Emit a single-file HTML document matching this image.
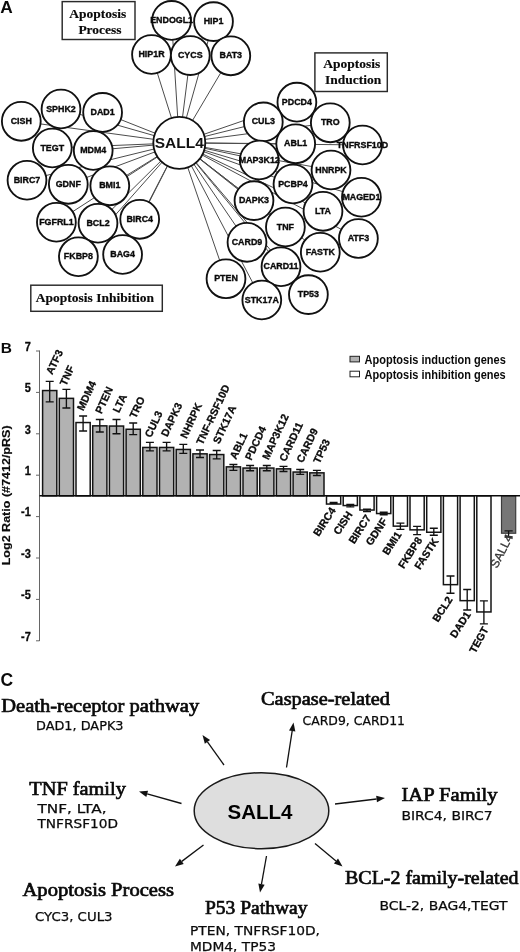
<!DOCTYPE html><html><head><meta charset="utf-8"><title>Figure</title>
<style>html,body{margin:0;padding:0;background:#fff}svg{display:block;filter:grayscale(1)}text{font-family:"Liberation Sans",sans-serif}.g{font-weight:bold;font-size:8.9px;text-anchor:middle;fill:#0a0a0a;stroke:#0a0a0a;stroke-width:.35px}.bx{font-family:"Liberation Serif",serif;font-weight:bold;font-size:13.5px;text-anchor:middle;fill:#0a0a0a;stroke:#0a0a0a;stroke-width:.15px}.pl{font-weight:bold;font-size:15.5px;fill:#0a0a0a}.tk{font-weight:bold;font-size:12.6px;text-anchor:end;fill:#0a0a0a;stroke:#0a0a0a;stroke-width:.3px}.bl{font-weight:bold;font-size:10.6px;fill:#0a0a0a;stroke:#0a0a0a;stroke-width:.3px}.lg{font-weight:bold;font-size:12px;fill:#0a0a0a}.hd{font-family:"Liberation Serif",serif;font-size:19.6px;fill:#0a0a0a;stroke:#0a0a0a;stroke-width:.7px}.sb{font-family:"DejaVu Sans",sans-serif;font-size:12.6px;fill:#0a0a0a;stroke:#0a0a0a;stroke-width:.25px}</style></head><body>
<svg width="520" height="952" viewBox="0 0 520 952">
<rect width="520" height="952" fill="#fff"/>
<text class="pl" x="0.2" y="12.9" style="font-size:17.3px">A</text>
<g stroke="#4c4c4c" stroke-width="1">
<line x1="179.3" y1="142.8" x2="171.6" y2="20.4"/>
<line x1="179.3" y1="142.8" x2="213.5" y2="21.6"/>
<line x1="179.3" y1="142.8" x2="151.5" y2="54.5"/>
<line x1="179.3" y1="142.8" x2="190.3" y2="55.6"/>
<line x1="179.3" y1="142.8" x2="230.8" y2="55.8"/>
<line x1="179.3" y1="142.8" x2="21.3" y2="121.3"/>
<line x1="179.3" y1="142.8" x2="61" y2="109"/>
<line x1="179.3" y1="142.8" x2="102.6" y2="112.4"/>
<line x1="179.3" y1="142.8" x2="52.3" y2="148"/>
<line x1="179.3" y1="142.8" x2="93.2" y2="150.5"/>
<line x1="179.3" y1="142.8" x2="27" y2="180.2"/>
<line x1="179.3" y1="142.8" x2="68.3" y2="184.3"/>
<line x1="179.3" y1="142.8" x2="109.8" y2="185.8"/>
<line x1="179.3" y1="142.8" x2="56.4" y2="222.2"/>
<line x1="179.3" y1="142.8" x2="98" y2="223.2"/>
<line x1="179.3" y1="142.8" x2="139.7" y2="219.3"/>
<line x1="179.3" y1="142.8" x2="78.4" y2="256.7"/>
<line x1="179.3" y1="142.8" x2="122.6" y2="254.5"/>
<line x1="179.3" y1="142.8" x2="296.9" y2="102.2"/>
<line x1="179.3" y1="142.8" x2="263.3" y2="121.9"/>
<line x1="179.3" y1="142.8" x2="330.3" y2="122.8"/>
<line x1="179.3" y1="142.8" x2="295.7" y2="143.8"/>
<line x1="179.3" y1="142.8" x2="362.5" y2="145"/>
<line x1="179.3" y1="142.8" x2="259.3" y2="160"/>
<line x1="179.3" y1="142.8" x2="331" y2="170"/>
<line x1="179.3" y1="142.8" x2="293" y2="184"/>
<line x1="179.3" y1="142.8" x2="254" y2="200.6"/>
<line x1="179.3" y1="142.8" x2="361.4" y2="197.2"/>
<line x1="179.3" y1="142.8" x2="323" y2="211.3"/>
<line x1="179.3" y1="142.8" x2="285.4" y2="227"/>
<line x1="179.3" y1="142.8" x2="358.4" y2="238.5"/>
<line x1="179.3" y1="142.8" x2="247" y2="242.3"/>
<line x1="179.3" y1="142.8" x2="320.3" y2="252.2"/>
<line x1="179.3" y1="142.8" x2="281" y2="266.7"/>
<line x1="179.3" y1="142.8" x2="226" y2="278.8"/>
<line x1="179.3" y1="142.8" x2="261.8" y2="300"/>
<line x1="179.3" y1="142.8" x2="308.4" y2="294.6"/>
</g>
<g fill="#fff" stroke="#111" stroke-width="1.85">
<circle cx="171.6" cy="20.4" r="19.4"/>
<circle cx="213.5" cy="21.6" r="19.4"/>
<circle cx="151.5" cy="54.5" r="19.4"/>
<circle cx="190.3" cy="55.6" r="19.4"/>
<circle cx="230.8" cy="55.8" r="19.4"/>
<circle cx="21.3" cy="121.3" r="19.4"/>
<circle cx="61" cy="109" r="19.4"/>
<circle cx="102.6" cy="112.4" r="19.4"/>
<circle cx="52.3" cy="148" r="19.4"/>
<circle cx="93.2" cy="150.5" r="19.4"/>
<circle cx="27" cy="180.2" r="19.4"/>
<circle cx="68.3" cy="184.3" r="19.4"/>
<circle cx="109.8" cy="185.8" r="19.4"/>
<circle cx="56.4" cy="222.2" r="19.4"/>
<circle cx="98" cy="223.2" r="19.4"/>
<circle cx="139.7" cy="219.3" r="19.4"/>
<circle cx="78.4" cy="256.7" r="19.4"/>
<circle cx="122.6" cy="254.5" r="19.4"/>
<circle cx="296.9" cy="102.2" r="19.4"/>
<circle cx="263.3" cy="121.9" r="19.4"/>
<circle cx="330.3" cy="122.8" r="19.4"/>
<circle cx="295.7" cy="143.8" r="19.4"/>
<circle cx="362.5" cy="145" r="19.4"/>
<circle cx="259.3" cy="160" r="19.4"/>
<circle cx="331" cy="170" r="19.4"/>
<circle cx="293" cy="184" r="19.4"/>
<circle cx="254" cy="200.6" r="19.4"/>
<circle cx="361.4" cy="197.2" r="19.4"/>
<circle cx="323" cy="211.3" r="19.4"/>
<circle cx="285.4" cy="227" r="19.4"/>
<circle cx="358.4" cy="238.5" r="19.4"/>
<circle cx="247" cy="242.3" r="19.4"/>
<circle cx="320.3" cy="252.2" r="19.4"/>
<circle cx="281" cy="266.7" r="19.4"/>
<circle cx="226" cy="278.8" r="19.4"/>
<circle cx="261.8" cy="300" r="19.4"/>
<circle cx="308.4" cy="294.6" r="19.4"/>
<circle cx="179.3" cy="142.8" r="26"/>
</g>
<text class="g" x="171.6" y="22.9">ENDOGL1</text>
<text class="g" x="213.5" y="24.1">HIP1</text>
<text class="g" x="151.5" y="57.0">HIP1R</text>
<text class="g" x="190.3" y="58.1">CYCS</text>
<text class="g" x="230.8" y="58.3">BAT3</text>
<text class="g" x="21.3" y="123.8">CISH</text>
<text class="g" x="61" y="111.5">SPHK2</text>
<text class="g" x="102.6" y="114.9">DAD1</text>
<text class="g" x="52.3" y="150.5">TEGT</text>
<text class="g" x="93.2" y="153.0">MDM4</text>
<text class="g" x="27" y="182.7">BIRC7</text>
<text class="g" x="68.3" y="186.8">GDNF</text>
<text class="g" x="109.8" y="188.3">BMI1</text>
<text class="g" x="56.4" y="224.7">FGFRL1</text>
<text class="g" x="98" y="225.7">BCL2</text>
<text class="g" x="139.7" y="221.8">BIRC4</text>
<text class="g" x="78.4" y="259.2">FKBP8</text>
<text class="g" x="122.6" y="257.0">BAG4</text>
<text class="g" x="296.9" y="104.7">PDCD4</text>
<text class="g" x="263.3" y="124.4">CUL3</text>
<text class="g" x="330.3" y="125.3">TRO</text>
<text class="g" x="295.7" y="146.3">ABL1</text>
<text class="g" x="362.5" y="147.5">TNFRSF10D</text>
<text class="g" x="259.3" y="162.5">MAP3K12</text>
<text class="g" x="331" y="172.5">HNRPK</text>
<text class="g" x="293" y="186.5">PCBP4</text>
<text class="g" x="254" y="203.1">DAPK3</text>
<text class="g" x="361.4" y="199.7">MAGED1</text>
<text class="g" x="323" y="213.8">LTA</text>
<text class="g" x="285.4" y="229.5">TNF</text>
<text class="g" x="358.4" y="241.0">ATF3</text>
<text class="g" x="247" y="244.8">CARD9</text>
<text class="g" x="320.3" y="254.7">FASTK</text>
<text class="g" x="281" y="269.2">CARD11</text>
<text class="g" x="226" y="281.3">PTEN</text>
<text class="g" x="261.8" y="302.5">STK17A</text>
<text class="g" x="308.4" y="297.1">TP53</text>
<text x="179.3" y="148.4" font-weight="bold" font-size="15.5" text-anchor="middle" fill="#111">SALL4</text>
<rect x="62.2" y="1.6" width="72.8" height="37.9" fill="#fff" stroke="#2a2a2a" stroke-width="1.45"/>
<text class="bx" x="97.8" y="18.1">Apoptosis</text>
<text class="bx" x="100" y="33.5">Process</text>
<rect x="314.9" y="52.9" width="72.4" height="38.6" fill="#fff" stroke="#2a2a2a" stroke-width="1.45"/>
<text class="bx" x="351.7" y="68.15">Apoptosis</text>
<text class="bx" x="353.1" y="83.8">Induction</text>
<rect x="30.8" y="285.2" width="131.5" height="26.1" fill="#fff" stroke="#2a2a2a" stroke-width="1.45"/>
<text class="bx" x="94.9" y="302.3">Apoptosis Inhibition</text>
<text class="pl" x="0.8" y="352.8">B</text>
<line x1="39.5" y1="350.5" x2="39.5" y2="641" stroke="#666" stroke-width="1"/>
<line x1="36.0" y1="351.0" x2="39.5" y2="351.0" stroke="#666" stroke-width="1"/>
<text class="tk" transform="translate(30.8,350.7) scale(0.87,1)">7</text>
<line x1="36.0" y1="392.4" x2="39.5" y2="392.4" stroke="#666" stroke-width="1"/>
<text class="tk" transform="translate(30.8,392.1) scale(0.87,1)">5</text>
<line x1="36.0" y1="433.8" x2="39.5" y2="433.8" stroke="#666" stroke-width="1"/>
<text class="tk" transform="translate(30.8,433.5) scale(0.87,1)">3</text>
<line x1="36.0" y1="475.2" x2="39.5" y2="475.2" stroke="#666" stroke-width="1"/>
<text class="tk" transform="translate(30.8,474.9) scale(0.87,1)">1</text>
<line x1="36.0" y1="516.6" x2="39.5" y2="516.6" stroke="#666" stroke-width="1"/>
<text class="tk" transform="translate(30.8,516.3) scale(0.87,1)">-1</text>
<line x1="36.0" y1="558.0" x2="39.5" y2="558.0" stroke="#666" stroke-width="1"/>
<text class="tk" transform="translate(30.8,557.7) scale(0.87,1)">-3</text>
<line x1="36.0" y1="599.4" x2="39.5" y2="599.4" stroke="#666" stroke-width="1"/>
<text class="tk" transform="translate(30.8,599.1) scale(0.87,1)">-5</text>
<line x1="36.0" y1="640.8" x2="39.5" y2="640.8" stroke="#666" stroke-width="1"/>
<text class="tk" transform="translate(30.8,640.5) scale(0.87,1)">-7</text>
<text transform="translate(10.1,565.3) rotate(-90) scale(1.1,1)" font-weight="bold" font-size="11.4" fill="#0a0a0a" stroke="#0a0a0a" stroke-width="0.15">Log2 Ratio (#7412/pRS)</text>
<rect x="42.60" y="390.55" width="14.2" height="105.30" fill="#b2b2b2" stroke="#141414" stroke-width="1.5"/>
<path d="M45.70 381.3h8M45.70 401.8h8M49.70 381.3V401.8" stroke="#111" stroke-width="1.35" fill="none"/>
<text class="bl" transform="translate(52.30,375.30) rotate(-65)">ATF3</text>
<rect x="59.30" y="398.35" width="14.2" height="97.50" fill="#b2b2b2" stroke="#141414" stroke-width="1.5"/>
<path d="M62.40 389.4h8M62.40 408h8M66.40 389.4V408" stroke="#111" stroke-width="1.35" fill="none"/>
<text class="bl" transform="translate(66.00,386.40) rotate(-65)">TNF</text>
<rect x="76.00" y="422.55" width="14.2" height="73.30" fill="#fff" stroke="#141414" stroke-width="1.5"/>
<path d="M79.10 416h8M79.10 431h8M83.10 416V431" stroke="#111" stroke-width="1.35" fill="none"/>
<text class="bl" transform="translate(83.20,411.50) rotate(-65)">MDM4</text>
<rect x="92.70" y="425.85" width="14.2" height="70.00" fill="#b2b2b2" stroke="#141414" stroke-width="1.5"/>
<path d="M95.80 419.5h8M95.80 432h8M99.80 419.5V432" stroke="#111" stroke-width="1.35" fill="none"/>
<text class="bl" transform="translate(101.40,414.50) rotate(-65)">PTEN</text>
<rect x="109.40" y="426.05" width="14.2" height="69.80" fill="#b2b2b2" stroke="#141414" stroke-width="1.5"/>
<path d="M112.50 419.5h8M112.50 433.7h8M116.50 419.5V433.7" stroke="#111" stroke-width="1.35" fill="none"/>
<text class="bl" transform="translate(119.10,413.50) rotate(-65)">LTA</text>
<rect x="126.10" y="429.25" width="14.2" height="66.60" fill="#b2b2b2" stroke="#141414" stroke-width="1.5"/>
<path d="M129.20 423h8M129.20 434.6h8M133.20 423V434.6" stroke="#111" stroke-width="1.35" fill="none"/>
<text class="bl" transform="translate(135.80,419.00) rotate(-65)">TRO</text>
<rect x="142.80" y="447.45" width="14.2" height="48.40" fill="#b2b2b2" stroke="#141414" stroke-width="1.5"/>
<path d="M145.90 442.3h8M145.90 450.8h8M149.90 442.3V450.8" stroke="#111" stroke-width="1.35" fill="none"/>
<text class="bl" transform="translate(151.00,438.30) rotate(-65)">CUL3</text>
<rect x="159.50" y="447.45" width="14.2" height="48.40" fill="#b2b2b2" stroke="#141414" stroke-width="1.5"/>
<path d="M162.60 442.3h8M162.60 450.8h8M166.60 442.3V450.8" stroke="#111" stroke-width="1.35" fill="none"/>
<text class="bl" transform="translate(167.20,437.50) rotate(-65)">DAPK3</text>
<rect x="176.20" y="449.45" width="14.2" height="46.40" fill="#b2b2b2" stroke="#141414" stroke-width="1.5"/>
<path d="M179.30 444.3h8M179.30 453.3h8M183.30 444.3V453.3" stroke="#111" stroke-width="1.35" fill="none"/>
<text class="bl" transform="translate(186.40,439.30) rotate(-65)">NHRPK</text>
<rect x="192.90" y="453.85" width="14.2" height="42.00" fill="#b2b2b2" stroke="#141414" stroke-width="1.5"/>
<path d="M196.00 450h8M196.00 457.5h8M200.00 450V457.5" stroke="#111" stroke-width="1.35" fill="none"/>
<text class="bl" transform="translate(202.60,445.50) rotate(-65)">TNF-RSF10D</text>
<rect x="209.60" y="454.55" width="14.2" height="41.30" fill="#b2b2b2" stroke="#141414" stroke-width="1.5"/>
<path d="M212.70 450.5h8M212.70 458.8h8M216.70 450.5V458.8" stroke="#111" stroke-width="1.35" fill="none"/>
<text class="bl" transform="translate(219.30,444.50) rotate(-65)">STK17A</text>
<rect x="226.30" y="466.85" width="14.2" height="29.00" fill="#b2b2b2" stroke="#141414" stroke-width="1.5"/>
<path d="M229.40 464.5h8M229.40 470.3h8M233.40 464.5V470.3" stroke="#111" stroke-width="1.35" fill="none"/>
<text class="bl" transform="translate(236.00,460.00) rotate(-65)">ABL1</text>
<rect x="243.00" y="468.05" width="14.2" height="27.80" fill="#b2b2b2" stroke="#141414" stroke-width="1.5"/>
<path d="M246.10 465.5h8M246.10 470.7h8M250.10 465.5V470.7" stroke="#111" stroke-width="1.35" fill="none"/>
<text class="bl" transform="translate(251.20,461.00) rotate(-65)">PDCD4</text>
<rect x="259.70" y="468.05" width="14.2" height="27.80" fill="#b2b2b2" stroke="#141414" stroke-width="1.5"/>
<path d="M262.80 465.5h8M262.80 470.7h8M266.80 465.5V470.7" stroke="#111" stroke-width="1.35" fill="none"/>
<text class="bl" transform="translate(268.40,460.50) rotate(-65)">MAP3K12</text>
<rect x="276.40" y="468.85" width="14.2" height="27.00" fill="#b2b2b2" stroke="#141414" stroke-width="1.5"/>
<path d="M279.50 466.3h8M279.50 471.5h8M283.50 466.3V471.5" stroke="#111" stroke-width="1.35" fill="none"/>
<text class="bl" transform="translate(285.60,462.30) rotate(-65)">CARD11</text>
<rect x="293.10" y="472.05" width="14.2" height="23.80" fill="#b2b2b2" stroke="#141414" stroke-width="1.5"/>
<path d="M296.20 469.5h8M296.20 474.3h8M300.20 469.5V474.3" stroke="#111" stroke-width="1.35" fill="none"/>
<text class="bl" transform="translate(302.80,463.50) rotate(-65)">CARD9</text>
<rect x="309.80" y="472.85" width="14.2" height="23.00" fill="#b2b2b2" stroke="#141414" stroke-width="1.5"/>
<path d="M312.90 470.3h8M312.90 475.5h8M316.90 470.3V475.5" stroke="#111" stroke-width="1.35" fill="none"/>
<text class="bl" transform="translate(319.50,464.30) rotate(-65)">TP53</text>
<rect x="326.50" y="495.85" width="14.2" height="8.20" fill="#fff" stroke="#141414" stroke-width="1.5"/>
<path d="M329.60 502.3h8M329.60 503.3h8M333.60 502.3V503.3" stroke="#111" stroke-width="1.35" fill="none"/>
<text class="bl" text-anchor="end" transform="translate(336.10,510.40) rotate(-57)">BIRC4</text>
<rect x="343.20" y="495.85" width="14.2" height="9.70" fill="#fff" stroke="#141414" stroke-width="1.5"/>
<path d="M346.30 504.4h8M346.30 506.9h8M350.30 504.4V506.9" stroke="#111" stroke-width="1.35" fill="none"/>
<text class="bl" text-anchor="end" transform="translate(352.80,514.30) rotate(-57)">CISH</text>
<rect x="359.90" y="495.85" width="14.2" height="14.20" fill="#fff" stroke="#141414" stroke-width="1.5"/>
<path d="M363.00 509.2h8M363.00 511.6h8M367.00 509.2V511.6" stroke="#111" stroke-width="1.35" fill="none"/>
<text class="bl" text-anchor="end" transform="translate(371.50,517.90) rotate(-57)">BIRC7</text>
<rect x="376.60" y="495.85" width="14.2" height="17.70" fill="#fff" stroke="#141414" stroke-width="1.5"/>
<path d="M379.70 512.2h8M379.70 514.7h8M383.70 512.2V514.7" stroke="#111" stroke-width="1.35" fill="none"/>
<text class="bl" text-anchor="end" transform="translate(387.70,521.10) rotate(-57)">GDNF</text>
<rect x="393.30" y="495.85" width="14.2" height="30.30" fill="#fff" stroke="#141414" stroke-width="1.5"/>
<path d="M396.40 523.1h8M396.40 529.3h8M400.40 523.1V529.3" stroke="#111" stroke-width="1.35" fill="none"/>
<text class="bl" text-anchor="end" transform="translate(401.90,534.50) rotate(-57)">BMI1</text>
<rect x="410.00" y="495.85" width="14.2" height="34.00" fill="#fff" stroke="#141414" stroke-width="1.5"/>
<path d="M413.10 526.4h8M413.10 534.6h8M417.10 526.4V534.6" stroke="#111" stroke-width="1.35" fill="none"/>
<text class="bl" text-anchor="end" transform="translate(422.60,540.10) rotate(-57)">FKBP8</text>
<rect x="426.70" y="495.85" width="14.2" height="36.40" fill="#fff" stroke="#141414" stroke-width="1.5"/>
<path d="M429.80 528.2h8M429.80 535.2h8M433.80 528.2V535.2" stroke="#111" stroke-width="1.35" fill="none"/>
<text class="bl" text-anchor="end" transform="translate(438.80,541.20) rotate(-57)">FASTK</text>
<rect x="443.40" y="495.85" width="14.2" height="88.80" fill="#fff" stroke="#141414" stroke-width="1.5"/>
<path d="M446.50 576h8M446.50 593.2h8M450.50 576V593.2" stroke="#111" stroke-width="1.35" fill="none"/>
<text class="bl" text-anchor="end" transform="translate(453.00,599.50) rotate(-57)">BCL2</text>
<rect x="460.10" y="495.85" width="14.2" height="104.80" fill="#fff" stroke="#141414" stroke-width="1.5"/>
<path d="M463.20 589.5h8M463.20 610h8M467.20 589.5V610" stroke="#111" stroke-width="1.35" fill="none"/>
<text class="bl" text-anchor="end" transform="translate(471.20,614.50) rotate(-57)">DAD1</text>
<rect x="476.80" y="495.85" width="14.2" height="116.10" fill="#fff" stroke="#141414" stroke-width="1.5"/>
<path d="M479.90 600.8h8M479.90 623.8h8M483.90 600.8V623.8" stroke="#111" stroke-width="1.35" fill="none"/>
<text class="bl" text-anchor="end" transform="translate(488.90,629.30) rotate(-61)">TEGT</text>
<rect x="501.5" y="495.85" width="14.2" height="37.4" fill="#767676" stroke="#3c3c3c" stroke-width="1.2"/>
<path d="M504.5 530.9h8.2M504.5 537h8.2M508.6 530.9V537" stroke="#111" stroke-width="1.35" fill="none"/>
<text text-anchor="end" font-size="12" fill="#333" stroke="#333" stroke-width="0.3" transform="translate(513.4,536.9) rotate(-63)">SALL4</text>
<line x1="39.5" y1="495.85" x2="520" y2="495.85" stroke="#0a0a0a" stroke-width="1.5"/>
<rect x="350" y="356.3" width="9.5" height="5.6" fill="#b2b2b2" stroke="#222" stroke-width="1"/>
<rect x="350" y="371.2" width="9.5" height="5.6" fill="#fff" stroke="#222" stroke-width="1"/>
<text class="lg" transform="translate(364.6,364) scale(0.918,1)">Apoptosis induction genes</text>
<text class="lg" transform="translate(364.6,378.7) scale(0.918,1)">Apoptosis inhibition genes</text>
<text class="pl" x="0.5" y="686.4" style="font-size:17.5px">C</text>
<ellipse cx="261.5" cy="810.7" rx="67.3" ry="38" fill="#dedede" stroke="#1a1a1a" stroke-width="1.5"/>
<text x="260" y="818.5" font-weight="bold" font-size="20.5" text-anchor="middle" fill="#000">SALL4</text>
<line x1="224" y1="765" x2="207.45" y2="741.91" stroke="#111" stroke-width="1.3"/>
<polygon points="202.5,735 210.05,740.04 204.85,743.77" fill="#111"/>
<line x1="181.5" y1="803.5" x2="147.18" y2="793.81" stroke="#111" stroke-width="1.3"/>
<polygon points="139,791.5 148.05,790.73 146.31,796.89" fill="#111"/>
<line x1="203.5" y1="845" x2="181.79" y2="861.38" stroke="#111" stroke-width="1.3"/>
<polygon points="175,866.5 179.86,858.83 183.71,863.94" fill="#111"/>
<line x1="286.5" y1="767.5" x2="292.19" y2="730.90" stroke="#111" stroke-width="1.3"/>
<polygon points="293.5,722.5 295.36,731.39 289.03,730.41" fill="#111"/>
<line x1="335" y1="804" x2="376.56" y2="799.01" stroke="#111" stroke-width="1.3"/>
<polygon points="385,798 376.94,802.19 376.18,795.84" fill="#111"/>
<line x1="315" y1="843.5" x2="335.98" y2="861.05" stroke="#111" stroke-width="1.3"/>
<polygon points="342.5,866.5 333.93,863.50 338.03,858.59" fill="#111"/>
<line x1="266.5" y1="856" x2="261.49" y2="884.13" stroke="#111" stroke-width="1.3"/>
<polygon points="260,892.5 258.34,883.57 264.64,884.69" fill="#111"/>
<text class="hd" x="1.2" y="711.5" textLength="198" lengthAdjust="spacingAndGlyphs">Death-receptor pathway</text>
<text class="hd" x="29.3" y="794.6" textLength="96.5" lengthAdjust="spacingAndGlyphs">TNF family</text>
<text class="hd" x="22.5" y="896" textLength="151.5" lengthAdjust="spacingAndGlyphs">Apoptosis Process</text>
<text class="hd" x="261" y="704.7" textLength="129" lengthAdjust="spacingAndGlyphs">Caspase-related</text>
<text class="hd" x="401.5" y="800.5" textLength="96" lengthAdjust="spacingAndGlyphs">IAP Family</text>
<text class="hd" x="345" y="884.3" textLength="173.5" lengthAdjust="spacingAndGlyphs">BCL-2 family-related</text>
<text class="hd" x="205" y="914" textLength="102.5" lengthAdjust="spacingAndGlyphs">P53 Pathway</text>
<text class="sb" x="36" y="730" textLength="87.5" lengthAdjust="spacingAndGlyphs">DAD1, DAPK3</text>
<text class="sb" x="37.5" y="813" textLength="69" lengthAdjust="spacingAndGlyphs">TNF, LTA,</text>
<text class="sb" x="37.5" y="828" textLength="80.5" lengthAdjust="spacingAndGlyphs">TNFRSF10D</text>
<text class="sb" x="35" y="921" textLength="77.5" lengthAdjust="spacingAndGlyphs">CYC3, CUL3</text>
<text class="sb" x="302.5" y="725" textLength="102.5" lengthAdjust="spacingAndGlyphs">CARD9, CARD11</text>
<text class="sb" x="401.5" y="819.8" textLength="91" lengthAdjust="spacingAndGlyphs">BIRC4, BIRC7</text>
<text class="sb" x="379.5" y="910" textLength="128" lengthAdjust="spacingAndGlyphs">BCL-2, BAG4,TEGT</text>
<text class="sb" x="190" y="935" textLength="130" lengthAdjust="spacingAndGlyphs">PTEN, TNFRSF10D,</text>
<text class="sb" x="190" y="951" textLength="86" lengthAdjust="spacingAndGlyphs">MDM4, TP53</text>
</svg></body></html>
